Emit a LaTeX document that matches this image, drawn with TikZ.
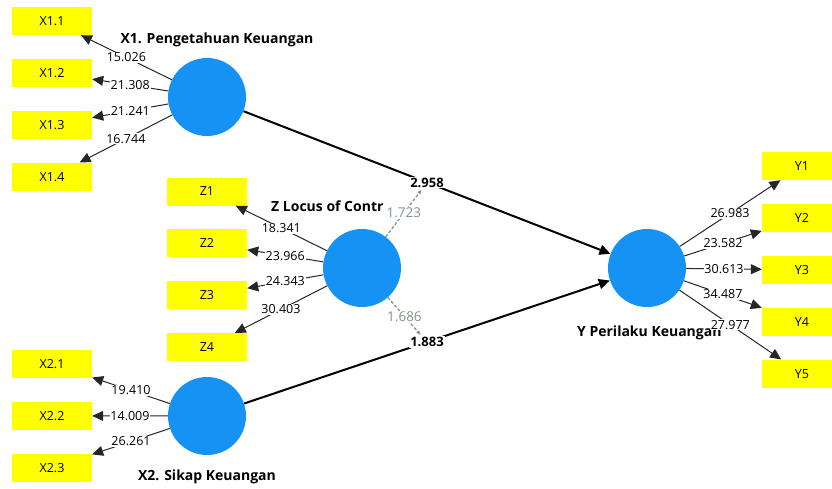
\documentclass[tikz,border=0pt]{standalone}
\usepackage{fontspec}
\setmainfont{Open Sans}
\usetikzlibrary{positioning}
\usetikzlibrary{arrows.meta}
\tikzset{>={Triangle[width=10pt,length=11pt]}}
\definecolor{plsblue}{RGB}{22,146,245}
\definecolor{plsyellow}{RGB}{255,255,0}
\definecolor{modgray}{RGB}{128,150,128}

\begin{document}
\begin{tikzpicture}[x=1pt, y=-1pt, node distance=23.5pt, latent/.style={circle, fill=plsblue, minimum size=78pt, inner sep=0pt}, indicator/.style={rectangle, fill=plsyellow, minimum width=80pt, minimum height=28pt, inner sep=0pt, font=\fontsize{12.5}{14}\selectfont}, latentname/.style={font=\fontsize{14}{16}\selectfont\bfseries, inner sep=0pt}, loading/.style={->, draw=black!85, line width=1pt}, weight/.style={midway, fill=white, inner sep=0.8pt, font=\fontsize{12.5}{14}\selectfont}, pathline/.style={->, draw=black, line width=2pt}, coef/.style={midway, fill=white, inner sep=1pt, font=\fontsize{13}{15}\selectfont\bfseries}, moderate/.style={-{Latex[length=5pt,width=4pt]}, draw=modgray, line width=1.3pt, dash pattern=on 3pt off 2pt}, modlabel/.style={midway, fill=white, inner sep=0.8pt, text=modgray, font=\fontsize{13.5}{15}\selectfont}]
    \clip (0,0) rectangle (832,488);
    
    %Nodes
    \node[latent](X1) at (207,97){};
    \node[latent](Z) at (362,268){};
    \node[latent](X2) at (207,416){};
    \node[latent](Y) at (647,268){};
    \node[latentname] at (217,40){X1. Pengetahuan Keuangan};
    \node[latentname, anchor=west] at (271,206){Z Locus of Contr};
    \node[latentname] at (207,477){X2. Sikap Keuangan};
    \node[latentname, anchor=west] at (577,333){Y Perilaku Keuangan};
    
    \node[indicator](x11) at (52,21){X1.1};
    \node[indicator](x12)[below=of x11]{X1.2};
    \node[indicator](x13)[below=of x12]{X1.3};
    \node[indicator](x14)[below=of x13]{X1.4};
    
    \node[indicator](z1) at (207,191.5){Z1};
    \node[indicator](z2)[below=of z1]{Z2};
    \node[indicator](z3)[below=of z2]{Z3};
    \node[indicator](z4)[below=of z3]{Z4};
    
    \node[indicator](x21) at (52,364){X2.1};
    \node[indicator](x22)[below=of x21]{X2.2};
    \node[indicator](x23)[below=of x22]{X2.3};
    
    \node[indicator](y1) at (802,166){Y1};
    \node[indicator](y2)[below=of y1]{Y2};
    \node[indicator](y3)[below=of y2]{Y3};
    \node[indicator](y4)[below=of y3]{Y4};
    \node[indicator](y5)[below=of y4]{Y5};
    
    %Lines
    \draw[loading] (X1) -- (x11) node[weight]{15.026};
    \draw[loading] (X1) -- (x12) node[weight]{21.308};
    \draw[loading] (X1) -- (x13) node[weight]{21.241};
    \draw[loading] (X1) -- (x14) node[weight]{16.744};
    
    \draw[loading] (Z) -- (z1) node[weight]{18.341};
    \draw[loading] (Z) -- (z2) node[weight]{23.966};
    \draw[loading] (Z) -- (z3) node[weight]{24.343};
    \draw[loading] (Z) -- (z4) node[weight]{30.403};
    
    \draw[loading] (X2) -- (x21) node[weight]{19.410};
    \draw[loading] (X2) -- (x22) node[weight]{14.009};
    \draw[loading] (X2) -- (x23) node[weight]{26.261};
    
    \draw[loading] (Y) -- (y1) node[weight]{26.983};
    \draw[loading] (Y) -- (y2) node[weight]{23.582};
    \draw[loading] (Y) -- (y3) node[weight]{30.613};
    \draw[loading] (Y) -- (y4) node[weight]{34.487};
    \draw[loading] (Y) -- (y5) node[weight]{27.977};
    
    \draw[pathline] (X1) -- (Y) node[coef](b1){2.958};
    \draw[pathline] (X2) -- (Y) node[coef](b2){1.883};
    \draw[moderate] (Z) -- (b1) node[modlabel]{1.723};
    \draw[moderate] (Z) -- (b2) node[modlabel]{1.686};
    
\end{tikzpicture}
\end{document}
